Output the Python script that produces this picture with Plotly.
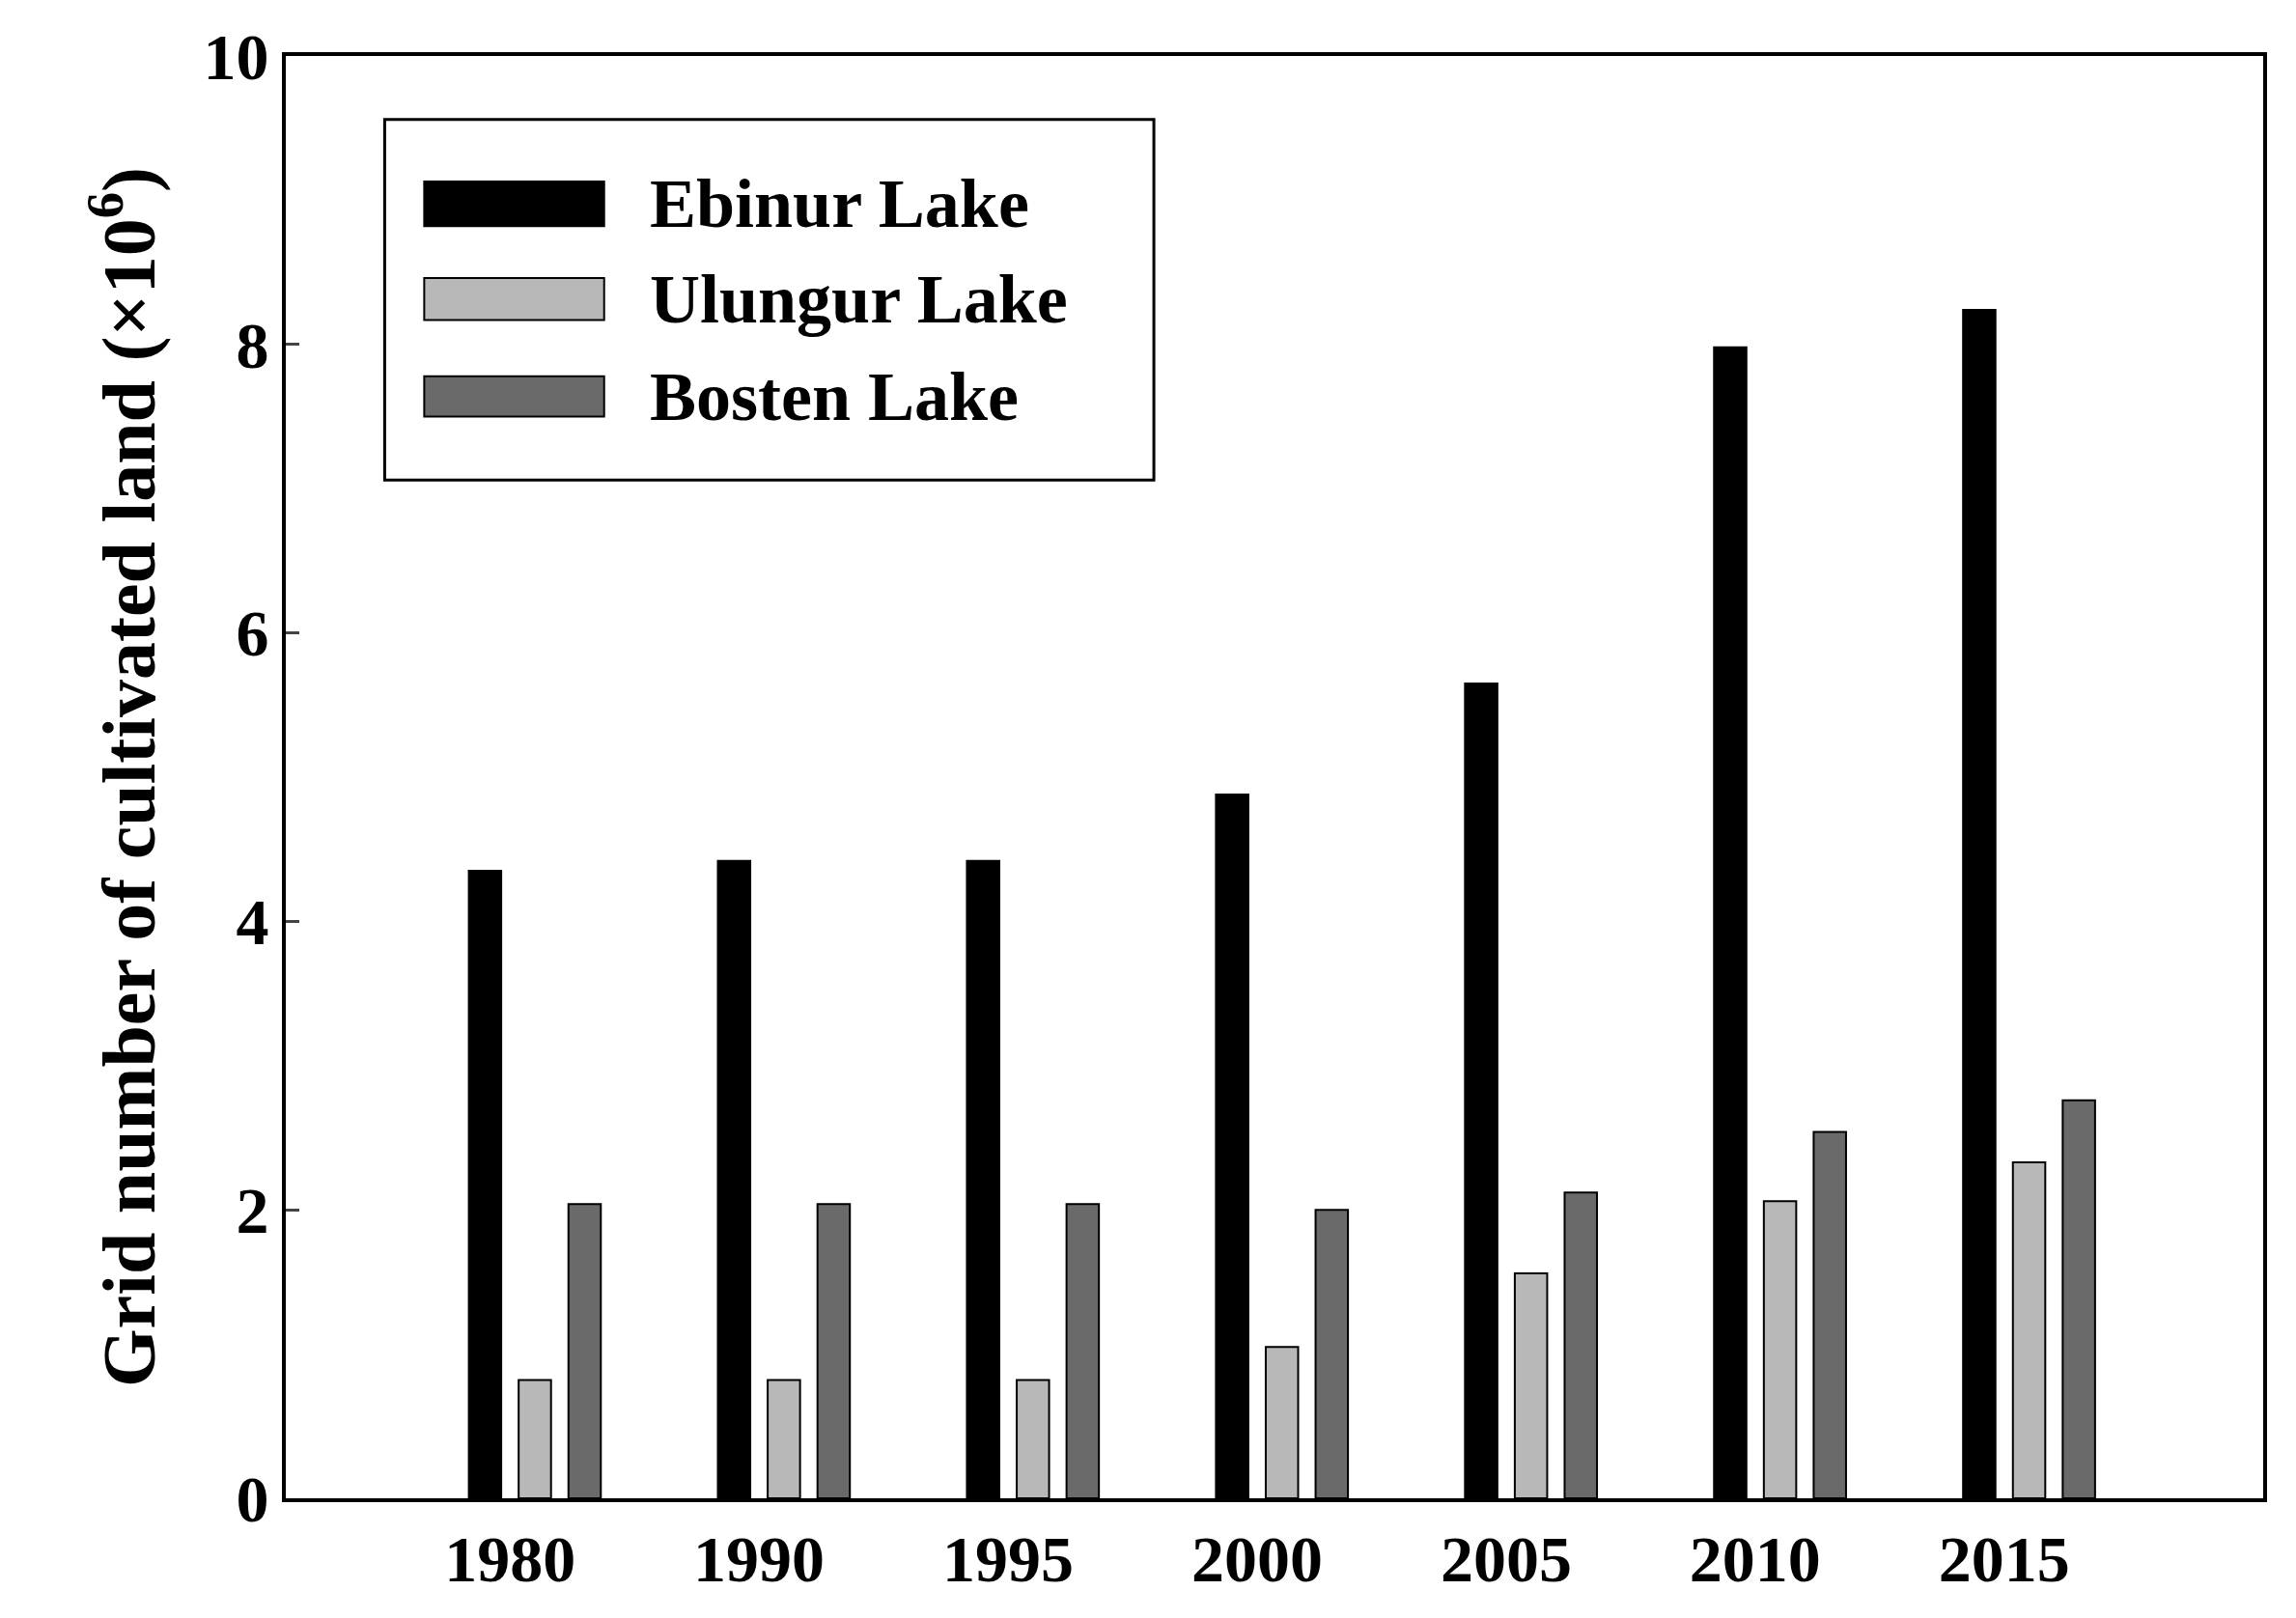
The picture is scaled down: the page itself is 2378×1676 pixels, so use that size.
import plotly.graph_objects as go

years = ["1980", "1990", "1995", "2000", "2005", "2010", "2015"]
ebinur = [4.35, 4.42, 4.42, 4.88, 5.65, 7.98, 8.24]
ulungur = [0.82, 0.82, 0.82, 1.05, 1.56, 2.06, 2.33]
bosten = [2.04, 2.04, 2.04, 2.00, 2.12, 2.54, 2.76]
names = ["Ebinur Lake", "Ulungur Lake", "Bosten Lake"]
colors = ["#000000", "#b8b8b8", "#6a6a6a"]

xi = list(range(len(years)))
fig = go.Figure()
W = 0.13
for k, (vals, nm, c) in enumerate(zip([ebinur, ulungur, bosten], names, colors)):
    fig.add_trace(go.Bar(x=xi, y=vals, name=nm, width=W, offset=(k - 1) * 0.2 - W / 2,
                         marker=dict(color=c, line=dict(color="black", width=2)),
                         showlegend=False))

font = "Liberation Serif"
fig.update_layout(
    width=2378, height=1676, plot_bgcolor="white", paper_bgcolor="white",
    margin=dict(l=288, r=42, t=50, b=132),
    font=dict(family=font, size=68, color="black"),
    xaxis=dict(range=[-1.0, 6.94], tickvals=[v - 0.1 for v in xi],
               ticktext=["<b>%s</b>" % y for y in years],
               showline=True, mirror=True, linecolor="black", linewidth=4, ticks="",
               showgrid=False, zeroline=False),
    yaxis=dict(range=[0, 10], tickvals=[0, 2, 4, 6, 8, 10],
               ticktext=["<b>%d</b>" % v for v in [0, 2, 4, 6, 8, 10]],
               showline=True, mirror=True, linecolor="black", linewidth=4,
               ticks="inside", ticklen=14, tickwidth=3, showgrid=False, zeroline=False,
               title=dict(text="<b>Grid number of cultivated land (×10<sup>6</sup>)</b>",
                          font=dict(size=78), standoff=25)),
)
fig.add_shape(type="rect", xref="paper", yref="paper", x0=0.050, x1=0.439, y0=0.706, y1=0.956,
              line=dict(color="black", width=3), fillcolor="white")
ys = [(0.882, 0.913), (0.817, 0.846), (0.750, 0.778)]
for (y0, y1), nm, c in zip(ys, names, colors):
    fig.add_shape(type="rect", xref="paper", yref="paper", x0=0.070, x1=0.161, y0=y0, y1=y1,
                  line=dict(color="black", width=2), fillcolor=c)
    fig.add_annotation(xref="paper", yref="paper", x=0.183, y=(y0 + y1) / 2, xanchor="left",
                       yanchor="middle", showarrow=False, text="<b>%s</b>" % nm,
                       font=dict(size=72, family=font))
fig.write_html("out.html")
